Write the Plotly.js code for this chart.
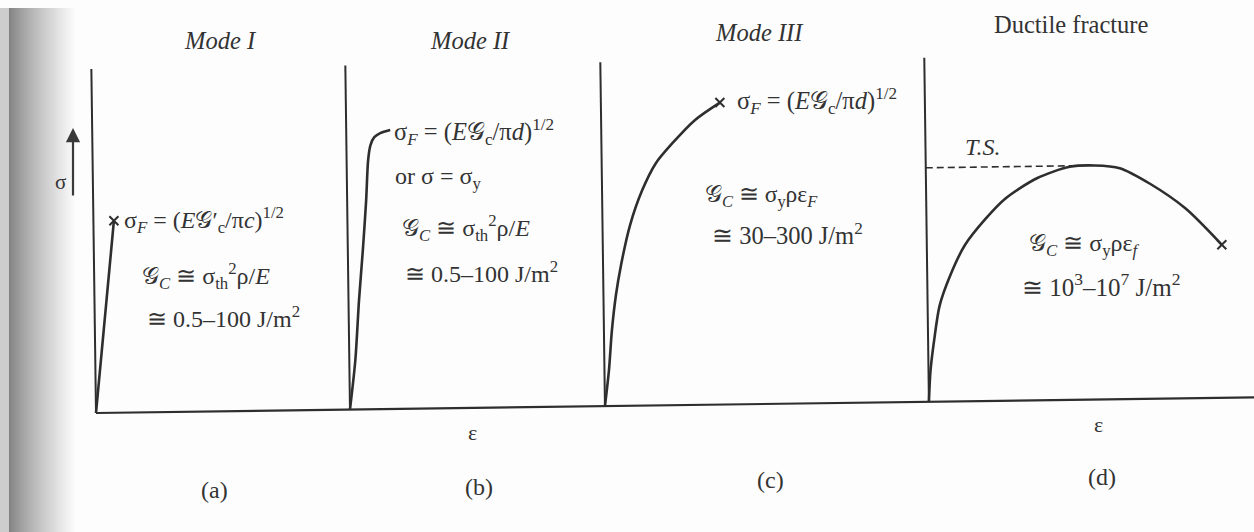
<!DOCTYPE html>
<html>
<head>
<meta charset="utf-8">
<script src="https://cdn.plot.ly/plotly-3.0.1.min.js"></script>
<style>
  html, body { margin: 0; padding: 0; background: #fff; }
  #chart { width: 1254px; height: 532px; }
</style>
</head>
<body>
<div id="chart"></div>
<script>
// Schematic stress–strain curves for the four fracture modes.
// Each curve is given in its own panel frame: strain along the baseline,
// stress measured upward from the baseline (same units on both).

const panelNames = ['(a)', '(b)', '(c)', '(d)'];
const panelTitles = ['<i>Mode I</i>', '<i>Mode II</i>', '<i>Mode III</i>', 'Ductile fracture'];

// Mode I: linear elastic up to fracture
const modeIStrain = [0, 20.5];
const modeIStress = [0, 192];

// Mode II: steep elastic rise, sharp yield
const modeIIStrain = [0, 6, 10.5, 15, 19, 21.5, 24, 28, 34, 44];
const modeIIStress = [0, 49, 109, 159, 209, 249, 264, 272, 276, 279];

// Mode III: gradual work hardening to fracture
const modeIIIStrain = [0, 4.5, 8, 12.5, 18, 27.5, 40, 54, 71, 94, 119];
const modeIIIStress = [0, 36, 76, 111, 141, 180.5, 215, 242, 262, 285, 302];

// Ductile fracture: rise to the tensile strength, necking, fracture
const ductileStrain = [0, 2, 6, 12, 23, 38, 59, 79, 111, 144, 169, 194, 224, 259, 295];
const ductileStress = [0, 31, 61, 96, 126, 156, 182, 202, 222, 233, 234, 231, 215, 190, 153];
const tensileStrength = 234;
const tensileStrainAtTS = 150;

// stress axis length and strain axis length (panel units)
const stressAxisMax = 344;
const strainAxisMax = 1160;

// ---- page placement of the panels ----
const W = 1254, H = 532;
const originU = [96, 350, 605, 929];   // where each panel's stress axis stands
const baseU = 96, baseYup = H - 413;   // left end of the common strain axis
const tilt = 0.0135;                   // the printed figure sits slightly askew
const cosT = Math.cos(tilt), sinT = Math.sin(tilt);

function place(panel, strain, stress) {
  const xs = [], ys = [];
  for (let i = 0; i < strain.length; i++) {
    const du = originU[panel] + strain[i] - baseU;
    const v = stress[i];
    xs.push(baseU + du * cosT - v * sinT);
    ys.push(baseYup + du * sinT + v * cosT);
  }
  return { x: xs, y: ys };
}

const ink = '#2e2e2e';
const traces = [];

function line(panel, strain, stress, width, dash) {
  const p = place(panel, strain, stress);
  traces.push({
    type: 'scatter', mode: 'lines', x: p.x, y: p.y,
    line: { color: ink, width: width, dash: dash || 'solid', shape: strain.length > 2 ? 'spline' : 'linear', smoothing: 0.8 },
    hoverinfo: 'skip', showlegend: false
  });
}

function fracture(panel, strain, stress) {
  const n = strain.length - 1;
  const p = place(panel, [strain[n]], [stress[n]]);
  traces.push({
    type: 'scatter', mode: 'markers', x: p.x, y: p.y,
    marker: { symbol: 'x-thin', size: 9, line: { color: ink, width: 2 } },
    hoverinfo: 'skip', showlegend: false
  });
}

// common strain axis
line(0, [0, strainAxisMax], [0, 0], 2.2);
// stress axes
for (let k = 0; k < 4; k++) line(k, [0, 0], [0, stressAxisMax], 2);

line(0, modeIStrain, modeIStress, 2.6);
fracture(0, modeIStrain, modeIStress);
line(1, modeIIStrain, modeIIStress, 2.6);
line(2, modeIIIStrain, modeIIIStress, 2.6);
fracture(2, modeIIIStrain, modeIIIStress);
line(3, ductileStrain, ductileStress, 2.6);
fracture(3, ductileStrain, ductileStress);
line(3, [0, tensileStrainAtTS], [tensileStrength, tensileStrength], 1.6, '7px,4px');

// ---- text ----
const serif = 'Liberation Serif, Times New Roman, serif';
const txt = '#333';
function label(x, yPx, text, size, anchor) {
  return {
    x: x, y: H - yPx, xref: 'x', yref: 'y', text: text, showarrow: false,
    xanchor: anchor || 'left', yanchor: 'middle',
    font: { family: serif, size: size || 24, color: txt }
  };
}

const G = '\u{1D4A2}';
const annotations = [
  label(220, 40, panelTitles[0], 24.5, 'center'),
  label(470, 40, panelTitles[1], 24.5, 'center'),
  label(759, 32, panelTitles[2], 24.5, 'center'),
  label(1071, 24, panelTitles[3], 24.5, 'center'),

  label(122, 220, 'σ<sub><i>F</i></sub> = (<i>E</i>' + G + '′<sub>c</sub>/π<i>c</i>)<sup>1/2</sup>'),
  label(140, 276, G + '<sub><i>C</i></sub> ≅ σ<sub>th</sub><sup>2</sup>ρ/<i>E</i>'),
  label(145, 317, '≅ 0.5–100 J/m<sup>2</sup>'),

  label(392, 132, 'σ<sub><i>F</i></sub> = (<i>E</i>' + G + '<sub>c</sub>/π<i>d</i>)<sup>1/2</sup>', 24.5),
  label(393, 178, 'or σ = σ<sub>y</sub>'),
  label(400, 228, G + '<sub><i>C</i></sub> ≅ σ<sub>th</sub><sup>2</sup>ρ/<i>E</i>'),
  label(403, 272, '≅ 0.5–100 J/m<sup>2</sup>'),

  label(735, 101, 'σ<sub><i>F</i></sub> = (<i>E</i>' + G + '<sub>c</sub>/π<i>d</i>)<sup>1/2</sup>', 24.5),
  label(703, 196, G + '<sub><i>C</i></sub> ≅ σ<sub>y</sub>ρε<sub><i>F</i></sub>', 23.5),
  label(710, 234, '≅ 30–300 J/m<sup>2</sup>', 24.5),

  label(963, 147, '<i>T.S.</i>', 24),
  label(1027, 245, G + '<sub><i>C</i></sub> ≅ σ<sub>y</sub>ρε<sub><i>f</i></sub>'),
  label(1020, 285, '≅ 10<sup>3</sup>–10<sup>7</sup> J/m<sup>2</sup>', 25),

  label(60, 182, 'σ', 21, 'center'),
  label(472, 432, 'ε', 22, 'center'),
  label(1098, 424, 'ε', 22, 'center'),

  label(214, 490, panelNames[0], 24, 'center'),
  label(479, 487, panelNames[1], 24, 'center'),
  label(770, 480, panelNames[2], 24, 'center'),
  label(1102, 477, panelNames[3], 24, 'center'),

  // stress direction arrow
  {
    x: 73, y: H - 128, ax: 73, ay: H - 197, xref: 'x', yref: 'y', axref: 'x', ayref: 'y',
    text: '', showarrow: true, arrowhead: 2, arrowsize: 1.3, arrowwidth: 2.2, arrowcolor: '#3a3a3a'
  }
];

// shaded binding edge along the left of the page
const shapes = [];
function shadeAt(x) {
  if (x < 9) return 205;
  const t = Math.min(1, (x - 9) / 68);
  return Math.round(128 + (255 - 128) * Math.pow(t, 0.8));
}
for (let x = 0; x < 80; x += 1) {
  const g = shadeAt(x + 0.5);
  if (g >= 254) continue;
  shapes.push({
    type: 'rect', xref: 'x', yref: 'y', x0: x, x1: x + 1.05, y0: 0, y1: H - 8,
    line: { width: 0 }, fillcolor: `rgb(${g},${g},${g})`, layer: 'below'
  });
}

const layout = {
  width: W, height: H,
  margin: { l: 0, r: 0, t: 0, b: 0 },
  paper_bgcolor: '#fdfdfd', plot_bgcolor: '#fdfdfd',
  xaxis: { range: [0, W], visible: false, fixedrange: true },
  yaxis: { range: [0, H], visible: false, fixedrange: true },
  annotations: annotations,
  shapes: shapes,
  showlegend: false
};

Plotly.newPlot('chart', traces, layout, { staticPlot: true, displayModeBar: false });
</script>
</body>
</html>
